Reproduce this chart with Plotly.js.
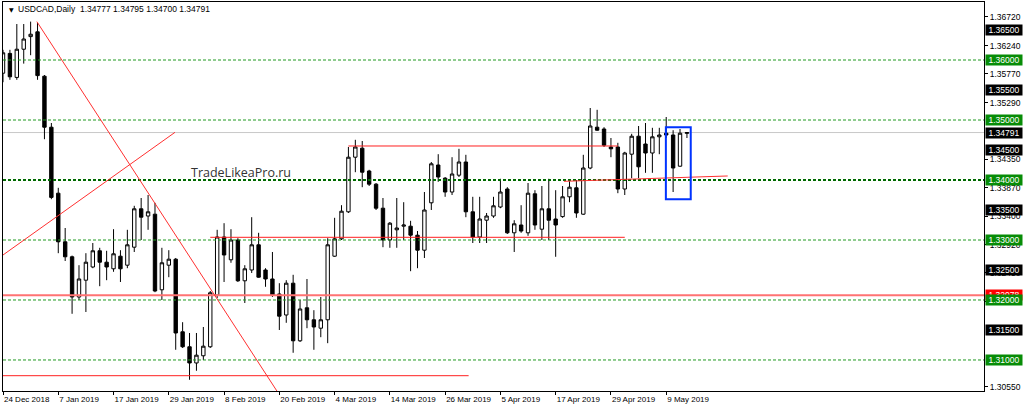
<!DOCTYPE html>
<html>
<head>
<meta charset="utf-8">
<script src="https://cdn.plot.ly/plotly-3.0.1.min.js"></script>
<style>
  html, body { margin: 0; padding: 0; background: #fff; }
  #chart { width: 1024px; height: 408px; }
</style>
</head>
<body>
<div id="chart"></div>
<script>
// USDCAD daily bars
const dates = [
  '2018-12-24','2018-12-26','2018-12-27','2018-12-28','2018-12-31',
  '2019-01-02','2019-01-03','2019-01-04','2019-01-07','2019-01-08','2019-01-09','2019-01-10','2019-01-11',
  '2019-01-14','2019-01-15','2019-01-16','2019-01-17','2019-01-18','2019-01-21','2019-01-22','2019-01-23',
  '2019-01-24','2019-01-25','2019-01-28','2019-01-29','2019-01-30','2019-01-31','2019-02-01',
  '2019-02-04','2019-02-05','2019-02-06','2019-02-07','2019-02-08','2019-02-11','2019-02-12','2019-02-13',
  '2019-02-14','2019-02-15','2019-02-18','2019-02-19','2019-02-20','2019-02-21','2019-02-22',
  '2019-02-25','2019-02-26','2019-02-27','2019-02-28','2019-03-01',
  '2019-03-04','2019-03-05','2019-03-06','2019-03-07','2019-03-08','2019-03-11','2019-03-12','2019-03-13',
  '2019-03-14','2019-03-15','2019-03-18','2019-03-19','2019-03-20','2019-03-21','2019-03-22',
  '2019-03-25','2019-03-26','2019-03-27','2019-03-28','2019-03-29',
  '2019-04-01','2019-04-02','2019-04-03','2019-04-04','2019-04-05','2019-04-08','2019-04-09','2019-04-10',
  '2019-04-11','2019-04-12','2019-04-15','2019-04-16','2019-04-17','2019-04-18','2019-04-19',
  '2019-04-22','2019-04-23','2019-04-24','2019-04-25','2019-04-26','2019-04-29','2019-04-30',
  '2019-05-01','2019-05-02','2019-05-03','2019-05-06','2019-05-07','2019-05-08','2019-05-09','2019-05-10',
  '2019-05-13','2019-05-14'
];

const openP = [
  1.3578,1.3611,1.3571,1.3618,1.3639,1.3647,1.3573,1.3488,1.3378,1.3297,
  1.3272,1.3205,1.3233,1.3255,1.3282,1.3263,1.3252,1.3273,1.3258,1.3288,
  1.3352,1.3340,1.3343,1.3217,1.3258,1.3268,1.3147,1.3122,1.3095,1.3107,
  1.3122,1.3208,1.3305,1.3267,1.3300,1.3232,1.3250,1.3292,1.3250,1.3235,
  1.3210,1.3175,1.3228,1.3132,1.3187,1.3167,1.3153,1.3167,1.3273,1.3302,
  1.3347,1.3438,1.3453,1.3415,1.3393,1.3353,1.3300,1.3317,1.3323,1.3323,
  1.3308,1.3283,1.3362,1.3425,1.3403,1.3380,1.3408,1.3430,1.3347,1.3305,
  1.3333,1.3340,1.3355,1.3385,1.3312,1.3325,1.3312,1.3377,1.3318,1.3352,
  1.3335,1.3339,1.3372,1.3387,1.3343,1.3420,1.3488,1.3485,1.3455,1.3455,
  1.3385,1.3443,1.3473,1.3460,1.3445,1.3472,1.3478,1.3475,1.3423,1.34777
];
const highP = [
  1.3617,1.3617,1.3660,1.3660,1.3664,1.3662,1.3575,1.3495,1.3387,1.3320,
  1.3274,1.3258,1.3278,1.3295,1.3287,1.3282,1.3318,1.3283,1.3317,1.3357,
  1.3370,1.3375,1.3362,1.3287,1.3283,1.3270,1.3163,1.3145,1.3145,1.3155,
  1.3215,1.3317,1.3328,1.3318,1.3303,1.3258,1.3338,1.3312,1.3253,1.3280,
  1.3228,1.3233,1.3242,1.3200,1.3235,1.3183,1.3205,1.3303,1.3337,1.3358,
  1.3455,1.3467,1.3465,1.3417,1.3395,1.3370,1.3330,1.3370,1.3363,1.3332,
  1.3315,1.3380,1.3430,1.3443,1.3405,1.3438,1.3452,1.3442,1.3372,1.3372,
  1.3345,1.3372,1.3402,1.3388,1.3333,1.3358,1.3395,1.3383,1.3390,1.3402,
  1.3383,1.3390,1.3398,1.3400,1.3442,1.3520,1.3517,1.3488,1.3470,1.3462,
  1.3447,1.3477,1.3490,1.3495,1.3487,1.3487,1.3505,1.3483,1.3485,1.34795
];
const lowP = [
  1.3563,1.3567,1.3567,1.3594,1.3608,1.3567,1.3468,1.3368,1.3278,1.3265,
  1.3177,1.3200,1.3180,1.3253,1.3223,1.3233,1.3247,1.3230,1.3253,1.3280,
  1.3300,1.3317,1.3213,1.3200,1.3238,1.3117,1.3120,1.3067,1.3082,1.3100,
  1.3120,1.3203,1.3230,1.3262,1.3230,1.3195,1.3245,1.3237,1.3222,1.3205,
  1.3150,1.3162,1.3112,1.3130,1.3153,1.3117,1.3138,1.3128,1.3272,1.3300,
  1.3345,1.3413,1.3388,1.3390,1.3350,1.3288,1.3287,1.3287,1.3300,1.3248,
  1.3253,1.3270,1.3350,1.3397,1.3372,1.3375,1.3405,1.3338,1.3295,1.3295,
  1.3295,1.3337,1.3353,1.3310,1.3280,1.3312,1.3307,1.3317,1.3300,1.3300,
  1.3272,1.3337,1.3363,1.3337,1.3342,1.3418,1.3482,1.3455,1.3438,1.3378,
  1.3375,1.3403,1.3403,1.3412,1.3412,1.3443,1.3470,1.3380,1.3422,1.34700
];
const closeP = [
  1.3612,1.3572,1.3618,1.3635,1.3643,1.3574,1.3488,1.3371,1.3297,1.3272,
  1.3205,1.3235,1.3263,1.3282,1.3263,1.3255,1.3277,1.3252,1.3292,1.3352,
  1.3338,1.3347,1.3215,1.3262,1.3268,1.3145,1.3122,1.3095,1.3108,1.3123,
  1.3212,1.3305,1.3275,1.3300,1.3232,1.3252,1.3292,1.3238,1.3235,1.3208,
  1.3173,1.3228,1.3132,1.3185,1.3167,1.3155,1.3167,1.3292,1.3302,1.3348,
  1.3438,1.3455,1.3413,1.3393,1.3353,1.3300,1.3328,1.3320,1.3325,1.3308,
  1.3283,1.3350,1.3427,1.3405,1.3380,1.3410,1.3430,1.3347,1.3305,1.3335,
  1.3340,1.3357,1.3380,1.3312,1.3327,1.3315,1.3378,1.3325,1.3352,1.3333,
  1.3325,1.3372,1.3388,1.3345,1.3420,1.3490,1.3483,1.3458,1.3452,1.3385,
  1.3445,1.3473,1.3422,1.3445,1.3472,1.3475,1.3475,1.3420,1.3478,1.34791
];

// x-axis labels (every 8th bar)
const tickDates = ['2018-12-24','2019-01-07','2019-01-17','2019-01-29','2019-02-08','2019-02-20',
  '2019-03-04','2019-03-14','2019-03-26','2019-04-05','2019-04-17','2019-04-29','2019-05-09'];
const tickLabels = ['24 Dec 2018','7 Jan 2019','17 Jan 2019','29 Jan 2019','8 Feb 2019','20 Feb 2019',
  '4 Mar 2019','14 Mar 2019','26 Mar 2019','5 Apr 2019','17 Apr 2019','29 Apr 2019','9 May 2019'];

// price scale labels
const priceTicks = [1.3672,1.3624,1.3577,1.3529,1.3435,1.3387,1.3340,1.3292,1.3245,1.3197,1.3055];
const roundLevels = [1.365,1.355,1.345,1.335,1.325,1.315];
const greenLevels = [1.36,1.35,1.34,1.33,1.32,1.31];
const lastPrice = 1.34791;
const redLevel = 1.32078;

// hand-drawn objects: [bar, price] pairs
const hSegments = [
  { x0: 0, x1: 67.4, y: 1.30738 },
  { x0: 30, x1: 90, y: 1.33045 },
  { x0: 50, x1: 89, y: 1.34567 }
];
const trendLines = [
  { x0: 4.9, y0: 1.3664, x1: 40, y1: 1.3042 },
  { x0: 0, y0: 1.3275, x1: 24.9, y1: 1.34795 },
  { x0: 81.2, y0: 1.33978, x1: 104.9, y1: 1.34067 }
];
const box = { x0: 95.95, x1: 99.55, y0: 1.33678, y1: 1.34878 };

const shapes = [];

// current price line
shapes.push({
  type: 'line', xref: 'paper', x0: 0, x1: 1, yref: 'y', y0: lastPrice, y1: lastPrice,
  line: { color: '#c8c8c8', width: 1 }, layer: 'below'
});

greenLevels.forEach(lv => {
  const strong = lv === 1.34;
  shapes.push({
    type: 'line', xref: 'paper', x0: 0, x1: 1, yref: 'y', y0: lv, y1: lv,
    line: { color: strong ? '#006a00' : '#1f9a1f', width: strong ? 2 : 1, dash: '3px,2px' }
  });
});

shapes.push({
  type: 'line', xref: 'paper', x0: 0, x1: 1, yref: 'y', y0: redLevel, y1: redLevel,
  line: { color: '#ff7373', width: 2 }
});

hSegments.forEach(s => {
  shapes.push({
    type: 'line', xref: 'x', yref: 'y', x0: s.x0, x1: s.x1, y0: s.y, y1: s.y,
    line: { color: '#ff2020', width: 1 }
  });
});

trendLines.forEach(t => {
  shapes.push({
    type: 'line', xref: 'x', yref: 'y', x0: t.x0, x1: t.x1, y0: t.y0, y1: t.y1,
    line: { color: '#ff3030', width: 1 }
  });
});

shapes.push({
  type: 'rect', xref: 'x', yref: 'y', x0: box.x0, x1: box.x1, y0: box.y0, y1: box.y1,
  line: { color: '#0033ff', width: 2 }, fillcolor: 'rgba(0,0,0,0)'
});

// boxed price labels on the right scale
const labelFont = { family: 'Liberation Sans, Arial, sans-serif', size: 8.5, color: '#ffffff' };
function priceTag(y, bg) {
  return {
    xref: 'paper', x: 1, xanchor: 'left', xshift: 1,
    yref: 'y', y: y, yanchor: 'middle',
    text: y.toFixed(5), showarrow: false,
    bgcolor: bg, width: 34, height: 8, borderpad: 1,
    font: labelFont
  };
}

const annotations = [];
roundLevels.forEach(lv => annotations.push(priceTag(lv, '#000000')));
annotations.push(priceTag(redLevel, '#ff0000'));
greenLevels.forEach(lv => annotations.push(priceTag(lv, '#078c07')));
annotations.push(priceTag(lastPrice, '#000000'));

// chart header
annotations.push({
  xref: 'paper', yref: 'paper', x: 0.004, y: 0.982, xanchor: 'left', yanchor: 'middle',
  text: '▼', showarrow: false, font: { family: 'DejaVu Sans', size: 6, color: '#000' }
});
annotations.push({
  xref: 'paper', yref: 'paper', x: 0.0133, y: 0.982, xanchor: 'left', yanchor: 'middle',
  text: 'USDCAD,Daily', showarrow: false,
  font: { family: 'Liberation Sans, Arial, sans-serif', size: 8.5, color: '#000' }
});
annotations.push({
  xref: 'paper', yref: 'paper', x: 0.0765, y: 0.982, xanchor: 'left', yanchor: 'middle',
  text: [openP[99], highP[99], lowP[99], closeP[99]].map(v => v.toFixed(5)).join(' '),
  showarrow: false,
  font: { family: 'Liberation Sans, Arial, sans-serif', size: 8.5, color: '#000' }
});

// watermark
annotations.push({
  xref: 'x', yref: 'y', x: 34.4, y: 1.3412, xanchor: 'center', yanchor: 'middle',
  text: 'TradeLikeaPro.ru', showarrow: false,
  font: { family: 'Open Sans, sans-serif', size: 12.5, color: '#333333' }
});

const trace = {
  type: 'candlestick',
  x: dates,
  open: openP,
  high: highP,
  low: lowP,
  close: closeP,
  increasing: { line: { color: '#000000', width: 1 }, fillcolor: '#ffffff' },
  decreasing: { line: { color: '#000000', width: 1 }, fillcolor: '#000000' },
  whiskerwidth: 0,
  hoverinfo: 'skip'
};

const layout = {
  width: 1024,
  height: 408,
  margin: { l: 3, r: 40, t: 2, b: 17, pad: 0 },
  paper_bgcolor: '#ffffff',
  plot_bgcolor: '#ffffff',
  showlegend: false,
  xaxis: {
    type: 'category',
    range: [0, 142],
    rangeslider: { visible: false },
    tickmode: 'array',
    tickvals: tickDates,
    ticktext: tickLabels,
    ticklabelposition: 'outside right',
    ticks: 'outside',
    ticklen: 3,
    tickcolor: '#000',
    showgrid: false,
    zeroline: false,
    showline: true,
    linecolor: '#000',
    linewidth: 1,
    mirror: true,
    tickfont: { family: 'Liberation Sans, Arial, sans-serif', size: 8, color: '#000' }
  },
  yaxis: {
    side: 'right',
    range: [1.30483, 1.36967],
    tickmode: 'array',
    tickvals: priceTicks,
    ticktext: priceTicks.map(v => v.toFixed(5)),
    ticks: 'outside',
    ticklen: 3,
    tickcolor: '#000',
    showgrid: false,
    zeroline: false,
    showline: true,
    linecolor: '#000',
    linewidth: 1,
    mirror: true,
    tickfont: { family: 'Liberation Sans, Arial, sans-serif', size: 8.5, color: '#000' }
  },
  shapes: shapes,
  annotations: annotations
};

Plotly.newPlot('chart', [trace], layout, { staticPlot: true, displayModeBar: false });
</script>
</body>
</html>
